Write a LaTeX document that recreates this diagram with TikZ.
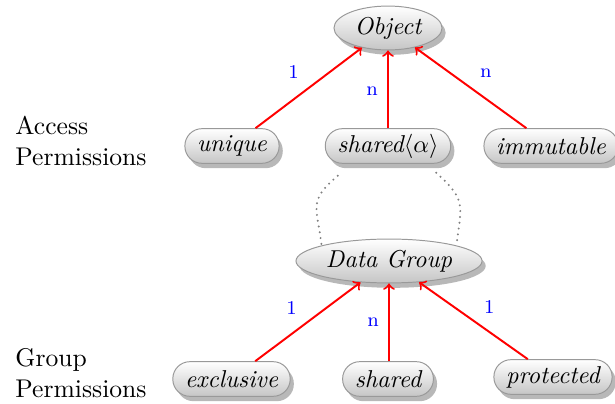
\documentclass[tikz,border=0pt]{standalone}
\usetikzlibrary{shapes.geometric,shadows,calc}
\begin{document}
\begin{tikzpicture}[x=0.41pt,y=-0.41pt,
  shade/.style={draw=gray!80, top color=white, bottom color=gray!45,
    drop shadow={shadow xshift=1.5pt, shadow yshift=-2pt, fill=black, opacity=0.28}},
  box/.style={shade, rectangle, rounded corners=7pt, minimum height=14.2pt,
    inner xsep=5pt, inner ysep=0pt, font=\itshape},
  oval/.style={shade, ellipse, inner sep=0pt, minimum height=18pt, font=\itshape},
  arr/.style={->, red, line width=0.8pt},
  lbl/.style={blue, inner sep=0pt, font=\footnotesize},
  side/.style={anchor=west, align=left, inner sep=0pt, font=\fontsize{10.5}{12.6}\selectfont},
  dots/.style={gray, line width=0.9pt, dash pattern=on 0pt off 2.4pt, line cap=round}]
\useasboundingbox (0,0) rectangle (615,404);

\node[oval, minimum width=44.3pt] (obj) at (388,28) {Object};
\node[box] (uni) at (232,146) {unique};
\node[box] (sa) at (388,146) {\textit{shared}$\langle\alpha\rangle$};
\node[box] (imm) at (551,146) {immutable};
\node[oval, minimum width=76.3pt] (dg) at (389,261) {Data Group};
\node[box] (exc) at (231.5,379) {exclusive};
\node[box] (sh) at (388,379) {shared};
\node[box] (pro) at (553,377) {protected};

\node[side] (ap) at (15,141) {Access\\Permissions};
\node[side] (gp) at (15,373) {Group\\Permissions};

\draw[arr] (uni) -- node[lbl, pos=0.7, xshift=-15pt] {1} (obj);
\draw[arr] (sa) -- node[lbl, pos=0.47, xshift=-6.5pt] {n} (obj);
\draw[arr] (imm) -- node[lbl, pos=0.68, xshift=14.5pt] {n} (obj);

\draw[arr] (exc) -- node[lbl, pos=0.68, xshift=-14.5pt] {1} (dg);
\draw[arr] (sh.north -| dg.south) -- node[lbl, pos=0.5, xshift=-6.5pt] {n} (dg.south);
\draw[arr] (pro) -- node[lbl, pos=0.68, xshift=14.5pt] {1} (dg);

\draw[dots] ($(sa.south west)+(13,12)$) to[out=-140, in=97, looseness=1.4] (dg.167);
\draw[dots] ($(sa.south east)+(-15,9)$) to[out=-42, in=83, looseness=1.4] (dg.13);
\end{tikzpicture}
\end{document}
